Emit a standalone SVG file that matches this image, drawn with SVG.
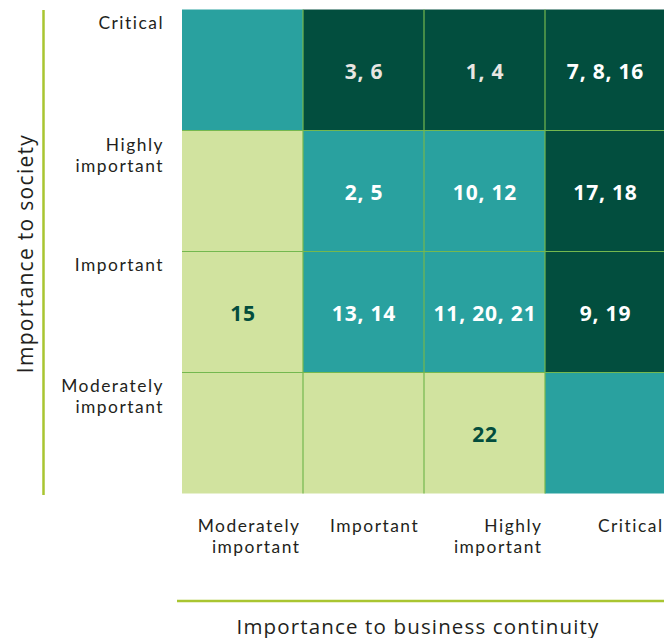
<svg xmlns="http://www.w3.org/2000/svg" width="664" height="638" viewBox="0 0 664 638">
<style>
.lt{fill:#d1e39f}.tl{fill:#29a19f}.dk{fill:#024e3e}
.grid{stroke:#74b84f;stroke-width:1.2;fill:none}
.num{font-family:"Open Sans","Liberation Sans",sans-serif;font-weight:700;font-size:21px;letter-spacing:0.8px;text-anchor:middle}
.w{fill:#ffffff}.g{fill:#e8e6e2}.d{fill:#034d3d}
.lbl{font-family:Lato,"Liberation Sans",sans-serif;font-size:17.4px;letter-spacing:1.5px;fill:#231f20}
.ax{font-family:"Open Sans","Liberation Sans",sans-serif;fill:#231f20;text-anchor:middle}
.axis{stroke:#a9c531;stroke-width:2.5}
</style>
<rect width="664" height="638" fill="#ffffff"/>
<g id="cells">
<rect class="tl" x="182" y="9.5" width="121" height="121"/>
<rect class="dk" x="303" y="9.5" width="121" height="121"/>
<rect class="dk" x="424" y="9.5" width="121" height="121"/>
<rect class="dk" x="545" y="9.5" width="121" height="121"/>
<rect class="lt" x="182" y="130.5" width="121" height="121"/>
<rect class="tl" x="303" y="130.5" width="121" height="121"/>
<rect class="tl" x="424" y="130.5" width="121" height="121"/>
<rect class="dk" x="545" y="130.5" width="121" height="121"/>
<rect class="lt" x="182" y="251.5" width="121" height="121"/>
<rect class="tl" x="303" y="251.5" width="121" height="121"/>
<rect class="tl" x="424" y="251.5" width="121" height="121"/>
<rect class="dk" x="545" y="251.5" width="121" height="121"/>
<rect class="lt" x="182" y="372.5" width="121" height="121"/>
<rect class="lt" x="303" y="372.5" width="121" height="121"/>
<rect class="lt" x="424" y="372.5" width="121" height="121"/>
<rect class="tl" x="545" y="372.5" width="121" height="121"/>
</g>
<g id="gridlines" class="grid">
<line x1="303" y1="9.5" x2="303" y2="493.5"/>
<line x1="424" y1="9.5" x2="424" y2="493.5"/>
<line x1="545" y1="9.5" x2="545" y2="493.5"/>
<line x1="182" y1="130.5" x2="664" y2="130.5"/>
<line x1="182" y1="251.5" x2="664" y2="251.5"/>
<line x1="182" y1="372.5" x2="664" y2="372.5"/>
</g>
<g id="numbers">
<text class="num g" x="364" y="79">3, 6</text>
<text class="num g" x="485" y="79">1, 4</text>
<text class="num w" x="605.5" y="79">7, 8, 16</text>
<text class="num w" x="364" y="200">2, 5</text>
<text class="num w" x="485" y="200">10, 12</text>
<text class="num w" x="605.5" y="200">17, 18</text>
<text class="num d" x="243" y="321">15</text>
<text class="num w" x="364" y="321">13, 14</text>
<text class="num w" x="485" y="321">11, 20, 21</text>
<text class="num w" x="605.5" y="321">9, 19</text>
<text class="num d" x="485" y="442">22</text>
</g>
<g id="y-labels" class="lbl" text-anchor="end">
<text x="164" y="29">Critical</text>
<text x="164" y="150.5">Highly</text>
<text x="164" y="171.5">important</text>
<text x="164" y="270.5">Important</text>
<text x="164" y="391.5">Moderately</text>
<text x="164" y="412.5">important</text>
</g>
<g id="x-labels" class="lbl">
<text x="300.5" y="531.5" text-anchor="end">Moderately</text>
<text x="300.5" y="552.5" text-anchor="end">important</text>
<text x="330" y="531.5">Important</text>
<text x="542.5" y="531.5" text-anchor="end">Highly</text>
<text x="542.5" y="552.5" text-anchor="end">important</text>
<text x="663.5" y="531.5" text-anchor="end">Critical</text>
</g>
<g id="axes">
<line class="axis" x1="43.5" y1="10" x2="43.5" y2="495"/>
<line class="axis" x1="177" y1="601" x2="664" y2="601"/>
<text class="ax" x="418" y="633.5" style="font-size:20.5px;letter-spacing:1.15px">Importance to business continuity</text>
<text class="ax" transform="translate(25 253.5) rotate(-90)" y="7.5" style="font-size:21px;letter-spacing:1.3px">Importance to society</text>
</g>
</svg>
